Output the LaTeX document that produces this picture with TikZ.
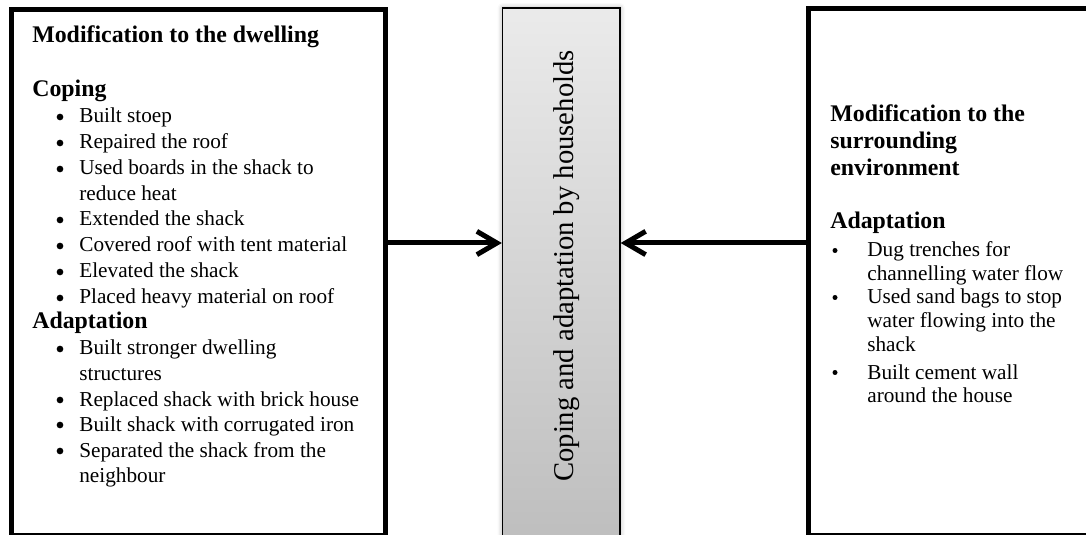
\documentclass[tikz,border=0pt]{standalone}
\usepackage{fontspec}
\setmainfont{Liberation Serif}
\usetikzlibrary{arrows.meta,
	fit,
	shadows.blur}
\newcommand{\bodysize}{\fontsize{12.75}{15.2}\selectfont}
\newcommand{\tightsize}{\fontsize{12.75}{14.2}\selectfont}
\newcommand{\headsize}{\fontsize{14.3}{16}\selectfont\bfseries}
\newcommand{\linestack}[1]{\begin{tabular}[t]{@{}l@{}}#1\end{tabular}}

\begin{document}
\begin{tikzpicture}[x=0.6pt, y=-0.6pt,
	>={Straight Barb[length=12pt,width=14pt]},
	panel/.style={draw, line width=3pt, inner sep=0pt},
	hubbar/.style={draw, line width=0.8pt, inner sep=0pt, top color=gray!16, bottom color=gray!51,
		blur shadow={shadow xshift=0pt, shadow yshift=0pt, shadow blur radius=3pt, shadow opacity=35}},
	head/.style={anchor=base west, inner sep=0pt, font=\headsize},
	entry/.style={anchor=base west, inner sep=0pt, font=\bodysize},
	entrytight/.style={entry, font=\tightsize},
	flow/.style={->, line width=3pt}]
	\useasboundingbox (0,0) rectangle (1086,535);
	\clip (0,0) rectangle (1086,535);
	% frames
	\node[panel, fit={(11,9.5) (385.5,535.5)}] (dwell) {};
	\node[panel, fit={(808,9) (1100,535.5)}] (env) {};
	\node[hubbar, fit={(502.5,8) (620,542)}] (hub) {};
	\node[rotate=90, anchor=base, inner sep=0pt, font=\fontsize{17.2}{20}\selectfont] (hublabel) at (573.3,266) {Coping and adaptation by households};
	% left box
	\node[head] (dwelltitle) at (32,43) {Modification to the dwelling};
	\node[head] (copetitle) at (32,97) {Coping};
	\node[entry] (c1) at (79,123) {Built stoep};
	\node[entry] (c2) at (79,149) {Repaired the roof};
	\node[entry] (c3) at (79,175) {\linestack{Used boards in the shack to\\reduce heat}};
	\node[entry] (c4) at (79,226) {Extended the shack};
	\node[entry] (c5) at (79,252) {Covered roof with tent material};
	\node[entry] (c6) at (79,278) {Elevated the shack};
	\node[entry] (c7) at (79,304) {Placed heavy material on roof};
	\node[head] (adapttitle) at (32,329) {Adaptation};
	\node[entry] (a1) at (79,355) {\linestack{Built stronger dwelling\\structures}};
	\node[entry] (a2) at (79,406) {Replaced shack with brick house};
	\node[entry] (a3) at (79,431) {Built shack with corrugated iron};
	\node[entry] (a4) at (79,457) {\linestack{Separated the shack from the\\neighbour}};
	\foreach \yy in {123,149,175,226,252,278,304,355,406,431,457}
		\fill (60,\yy-6) circle (2pt);
	% right box
	\node[head] (envtitle) at (830,122) {\linestack{Modification to the\\surrounding\\environment}};
	\node[head] (envadapt) at (830,229) {Adaptation};
	\node[entrytight] (e1) at (867,257) {\linestack{Dug trenches for\\channelling water flow}};
	\node[entrytight] (e2) at (867,304) {\linestack{Used sand bags to stop\\water flowing into the\\shack}};
	\node[entrytight] (e3) at (867,379) {\linestack{Built cement wall\\around the house}};
	\foreach \yy in {257,304,379}
		\fill (835,\yy-6.5) circle (1.5pt);
	% arrows
	\coordinate (ay) at (0,243);
	\draw[flow] (dwell.east |- ay) -- (hub.west |- ay);
	\draw[flow] (env.west |- ay) -- (hub.east |- ay);
\end{tikzpicture}
\end{document}
